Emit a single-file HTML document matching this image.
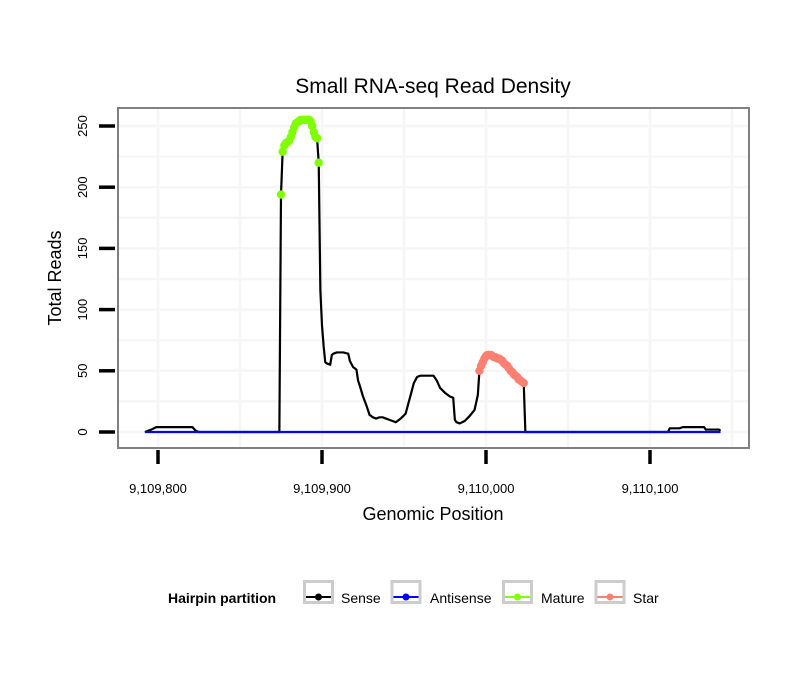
<!DOCTYPE html>
<html><head><meta charset="utf-8"><style>
body{margin:0;background:#fff;font-family:"Liberation Sans",sans-serif}
svg text{font-family:"Liberation Sans",sans-serif}
</style></head><body>
<svg id="chart" width="810" height="690" viewBox="0 0 810 690" xmlns="http://www.w3.org/2000/svg">
<rect width="810" height="690" fill="#fff"/>
<text x="433" y="93" font-size="21" text-anchor="middle">Small RNA-seq Read Density</text>
<g id="grid"></g>
<g id="marks"></g>
<rect x="118" y="108" width="631" height="340" fill="none" stroke="#808080" stroke-width="2"/>
<g id="axes"></g>
<text x="433" y="520" font-size="18" text-anchor="middle">Genomic Position</text>
<text transform="translate(61,278) rotate(-90)" font-size="18" text-anchor="middle">Total Reads</text>
<g>
<text x="168" y="603" font-size="14" font-weight="bold">Hairpin partition</text>
<g><rect x="304.5" y="581.5" width="28" height="21" fill="#fff" stroke="#ccc" stroke-width="3"/><line x1="306" y1="597" x2="331" y2="597" stroke="#000" stroke-width="2"/><circle cx="318.5" cy="597" r="3.5" fill="#000"/><text x="341" y="603" font-size="14">Sense</text></g>
<g><rect x="392" y="581.5" width="28" height="21" fill="#fff" stroke="#ccc" stroke-width="3"/><line x1="393.5" y1="597" x2="418.5" y2="597" stroke="#00f" stroke-width="2"/><circle cx="406" cy="597" r="3.5" fill="#00f"/><text x="430" y="603" font-size="14">Antisense</text></g>
<g><rect x="503.5" y="581.5" width="28" height="21" fill="#fff" stroke="#ccc" stroke-width="3"/><line x1="505" y1="597" x2="530" y2="597" stroke="#7fff00" stroke-width="2"/><circle cx="517.5" cy="597" r="3.5" fill="#7fff00"/><text x="541" y="603" font-size="14">Mature</text></g>
<g><rect x="596" y="581.5" width="28" height="21" fill="#fff" stroke="#ccc" stroke-width="3"/><line x1="597.5" y1="597" x2="622.5" y2="597" stroke="#fa8072" stroke-width="2"/><circle cx="610" cy="597" r="3.5" fill="#fa8072"/><text x="633" y="603" font-size="14">Star</text></g>
</g>
</svg>
<script>
const BASE = 9109800;
const xTicks = [9109800, 9109900, 9110000, 9110100];
const xTickLabels = ["9,109,800", "9,109,900", "9,110,000", "9,110,100"];
const yTicks = [0, 50, 100, 150, 200, 250];
const senseOffsets = [-8,-4,-1,21,23,25,74,75,76,77,78,79,80,81,82,83,84,85,86,87,88,89,90,91,92,93,94,95,96,97,98,99,100,101,102,103,105,106,107,109,113,116,117,119,121,122,123,125,127,129,131,133,135,137,139,141,143,145,148,151,152,154,156,158,160,168,170,172,175,178,180,181,182,184,187,190,193,195,196,197,198,199,200,201,202,203,204,205,206,207,208,209,210,211,212,213,214,215,216,217,218,219,220,221,222,223,224,311,312,318,320,333,334,342,343];
const senseReads = [0,2,4,4,1,0,0,194,229,234,236,237,238,241,245,249,252,253,254,255,255,255,255,255,255,254,250,245,241,240,220,116,87,70,57,56,55,63,64,65,65,64,58,53,51,42,38,29,22,14,12,11,12,12,11,10,9,8,11,15,20,30,40,45,46,46,42,36,32,29,28,10,8,7,9,13,18,30,50,54,57,60,62,63,63,63,62,61,61,60,60,59,58,56,55,54,52,50,49,47,46,45,43,42,41,40,0,0,3,3,4,4,2,2,1];
const antisenseOffsets = [-8, 343];
const antisenseReads = [0, 0];
const matureOffsets = [75,76,77,78,79,80,81,82,83,84,85,86,87,88,89,90,91,92,93,94,95,96,97,98];
const matureReads = [194,229,234,236,237,238,241,245,249,252,253,254,255,255,255,255,255,255,254,250,245,241,240,220];
const starOffsets = [196,197,198,199,200,201,202,203,204,205,206,207,208,209,210,211,212,213,214,215,216,217,218,219,220,221,222,223];
const starReads = [50,54,57,60,62,63,63,63,62,61,61,60,60,59,58,56,55,54,52,50,49,47,46,45,43,42,41,40];

const NS = "http://www.w3.org/2000/svg";
const xs = p => 158 + (p - 9109800) * 1.64;
const ys = v => 432 - v * 1.224;
function mk(tag, attrs, parent) {
  const e = document.createElementNS(NS, tag);
  for (const k in attrs) e.setAttribute(k, attrs[k]);
  parent.appendChild(e);
  return e;
}
const grid = document.getElementById('grid');
const marks = document.getElementById('marks');
const axes = document.getElementById('axes');
for (let v = 0; v <= 250; v += 25) {
  const g = mk('line', {x1:119, x2:748, y1:ys(v), y2:ys(v), stroke:'#f6f6f6', 'stroke-width':2.5}, grid);
  
  
}
for (let p = 9109750; p <= 9110150; p += 50) {
  const x = xs(p);
  if (x < 119 || x > 748) continue;
  const g = mk('line', {x1:x, x2:x, y1:109, y2:447, stroke:'#f6f6f6', 'stroke-width':2.5}, grid);
  
  
}
xTicks.forEach((t, i) => {
  const l = mk('line', {x1:xs(t), x2:xs(t), y1:450, y2:464, stroke:'#000', 'stroke-width':3.5}, axes);
  
  
  const tx = mk('text', {x:xs(t), y:493, 'font-size':13, 'text-anchor':'middle'}, axes);
  tx.textContent = xTickLabels[i];
  
  
});
yTicks.forEach(t => {
  const l = mk('line', {x1:99, x2:115, y1:ys(t), y2:ys(t), stroke:'#000', 'stroke-width':3.5}, axes);
  
  
  const tx = mk('text', {transform:`translate(87,${ys(t)}) rotate(-90)`, 'font-size':13, 'text-anchor':'middle'}, axes);
  tx.textContent = String(t);
  
  
});
function path(offs, vals, color, name) {
  const d = offs.map((o, i) => (i ? 'L' : 'M') + xs(BASE + o).toFixed(2) + ',' + ys(vals[i]).toFixed(2)).join(' ');
  const p = mk('path', {d, fill:'none', stroke:color, 'stroke-width':2.2, 'stroke-linejoin':'round'}, marks);
  
  
}
function dots(offs, vals, color, name) {
  offs.forEach((o, i) => {
    const c = mk('circle', {cx:xs(BASE + o), cy:ys(vals[i]), r:4.2, fill:color}, marks);
    
    
  });
}
path(senseOffsets, senseReads, '#000', 'sense-line');
path(antisenseOffsets, antisenseReads, '#0000ff', 'antisense-line');
dots(matureOffsets, matureReads, '#7fff00', 'mature-point');
dots(starOffsets, starReads, '#fa8072', 'star-point');
</script>
</body></html>
